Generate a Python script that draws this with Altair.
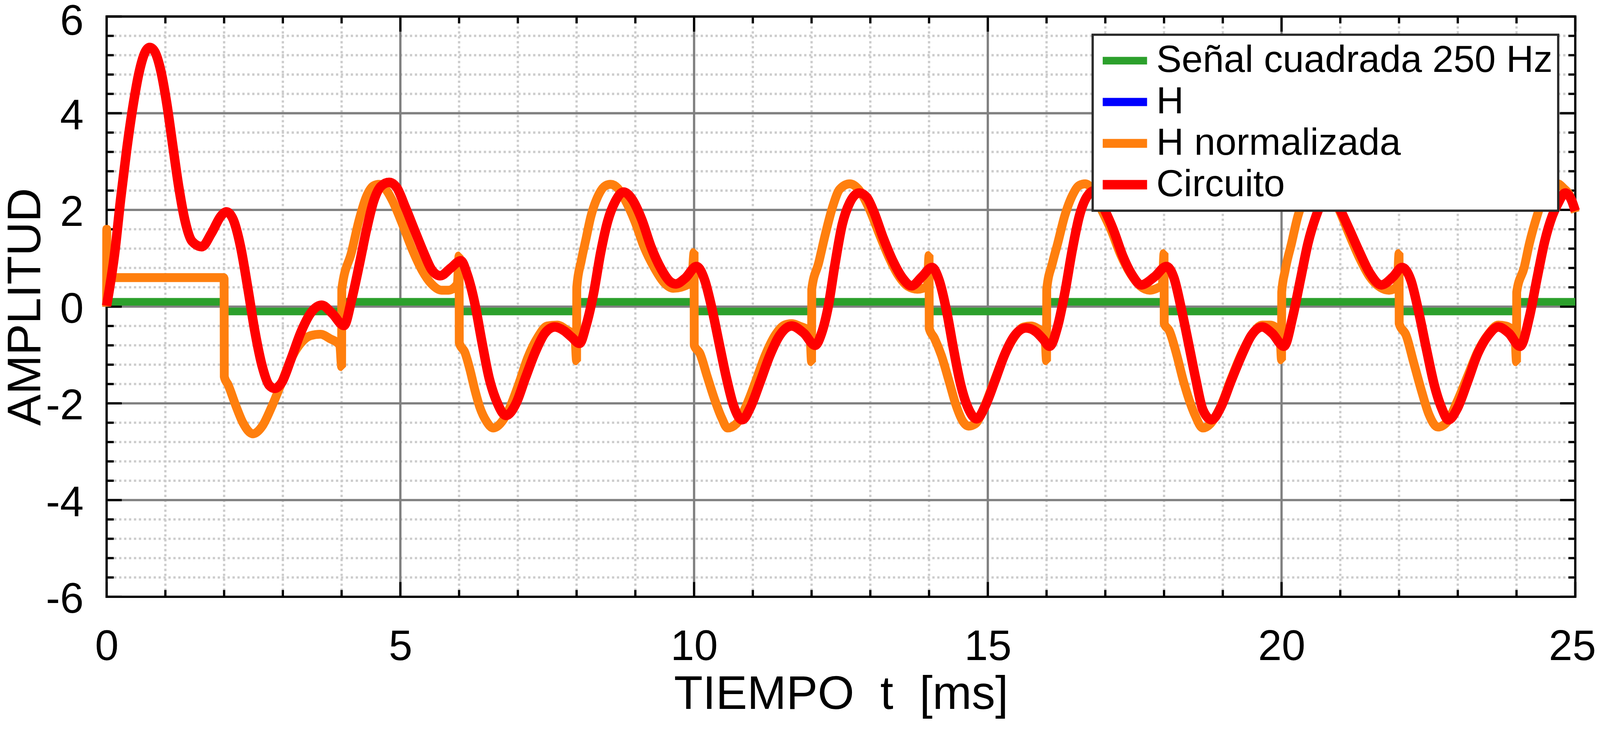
import altair as alt
import pandas as pd

FONT = "Liberation Sans"

# ---------------- data ----------------
series_names = ["Señal cuadrada 250 Hz", "H", "H normalizada", "Circuito"]
series_colors = ["#2ca02c", "#0000ff", "#ff7f0e", "#ff0000"]
series_widths = [20, 25, 20, 14]

# square wave 250 Hz (step-after)
sq_t = [0, 2, 4, 6, 8, 10, 12, 14, 16, 18, 20, 22, 24, 25]
sq_v = [0.1, -0.1, 0.1, -0.1, 0.1, -0.1, 0.1, -0.1, 0.1, -0.1, 0.1, -0.1, 0.1, 0.1]

# H normalizada (orange)
hn_t = [0.0, 0.002, 0.006, 1.99, 2.0, 2.003, 2.07, 2.2, 2.32, 2.49, 2.65, 2.81, 2.98, 3.14, 3.31, 3.47, 3.64, 3.8, 3.97,
        4.0, 4.003, 4.17, 4.3, 4.42, 4.545, 4.64, 4.75, 4.87, 5.04, 5.2, 5.37, 5.53, 5.7, 5.82, 5.97,
        6.0, 6.003, 6.1, 6.18, 6.27, 6.35, 6.47, 6.58, 6.7, 6.84, 7.01, 7.17, 7.34, 7.5, 7.67, 7.83, 7.97,
        8.0, 8.003, 8.08, 8.16, 8.24, 8.37, 8.49, 8.58, 8.7, 8.82, 8.99, 9.15, 9.32, 9.48, 9.645, 9.77, 9.96,
        10.0, 10.003, 10.1, 10.22, 10.35, 10.47, 10.57, 10.72, 10.88, 11.05, 11.21, 11.38, 11.54, 11.66, 11.79, 11.97,
        12.0, 12.003, 12.12, 12.235, 12.36, 12.48, 12.65, 12.81, 12.98, 13.14, 13.31, 13.47, 13.64, 13.8, 13.97,
        14.0, 14.003, 14.09, 14.21, 14.34, 14.46, 14.58, 14.67, 14.79, 14.95, 15.12, 15.28, 15.45, 15.61, 15.74, 15.86, 15.97,
        16.0, 16.003, 16.1, 16.19, 16.31, 16.44, 16.56, 16.66, 16.78, 16.93, 17.1, 17.26, 17.43, 17.59, 17.76, 17.88, 17.97,
        18.0, 18.003, 18.09, 18.21, 18.33, 18.46, 18.53, 18.66, 18.79, 18.97, 19.14, 19.32, 19.49, 19.67, 19.8, 19.97,
        20.0, 20.003, 20.06, 20.17, 20.28, 20.42, 20.55, 20.65, 20.78, 20.98, 21.15, 21.33, 21.5, 21.68, 21.83, 21.97,
        22.0, 22.003, 22.12, 22.25, 22.38, 22.51, 22.66, 22.82, 22.99, 23.17, 23.34, 23.52, 23.69, 23.82, 23.97,
        24.0, 24.003, 24.13, 24.22, 24.35, 24.47, 24.6, 24.7, 24.8, 24.92, 25.0]
hn_v = [0.0, 1.6, 0.6, 0.6, 0.58, -1.45, -1.62, -2.05, -2.4, -2.63, -2.47, -2.07, -1.57, -1.08, -0.75, -0.6, -0.57, -0.66, -0.8,
        -1.24, 0.36, 1.13, 1.8, 2.27, 2.5, 2.53, 2.43, 2.18, 1.69, 1.19, 0.75, 0.47, 0.34, 0.34, 0.47,
        1.05, -0.75, -0.95, -1.28, -1.73, -2.07, -2.38, -2.51, -2.42, -2.15, -1.62, -1.05, -0.63, -0.4, -0.38, -0.48, -0.6,
        -1.12, 0.4, 0.95, 1.4, 1.85, 2.3, 2.5, 2.53, 2.45, 2.22, 1.77, 1.23, 0.81, 0.51, 0.38, 0.4, 0.53,
        1.12, -0.8, -0.97, -1.43, -1.92, -2.3, -2.51, -2.42, -2.07, -1.54, -1.01, -0.59, -0.38, -0.35, -0.4, -0.52,
        -1.14, 0.36, 0.9, 1.5, 2.07, 2.43, 2.54, 2.41, 2.03, 1.54, 1.04, 0.66, 0.42, 0.36, 0.42,
        1.06, -0.45, -0.65, -1.01, -1.54, -2.04, -2.38, -2.47, -2.42, -2.04, -1.5, -1.01, -0.63, -0.42, -0.4, -0.46, -0.56,
        -1.12, 0.36, 0.9, 1.31, 1.88, 2.3, 2.51, 2.54, 2.42, 2.02, 1.58, 1.08, 0.68, 0.43, 0.34, 0.38, 0.45,
        1.1, -0.35, -0.5, -0.97, -1.54, -2.04, -2.25, -2.51, -2.42, -2.04, -1.5, -0.97, -0.59, -0.38, -0.38, -0.52,
        -1.1, 0.3, 0.74, 1.31, 1.88, 2.3, 2.5, 2.54, 2.42, 2.0, 1.5, 1.0, 0.62, 0.4, 0.34, 0.42,
        1.1, -0.35, -0.59, -1.16, -1.73, -2.23, -2.49, -2.38, -1.96, -1.43, -0.93, -0.57, -0.38, -0.4, -0.55,
        -1.14, 0.3, 0.81, 1.31, 1.88, 2.3, 2.52, 2.54, 2.45, 2.26, 1.95]

# H (blue) - drawn under the orange curve, same shape within reading precision
h_t = list(hn_t)
h_v = list(hn_v)

# Circuito (red)
c_t = [0.0, 0.14, 0.24, 0.34, 0.445, 0.55, 0.65, 0.733, 0.816, 0.92, 1.02, 1.125, 1.23, 1.33, 1.455, 1.62, 1.785, 1.95, 2.04,
       2.155, 2.28, 2.4, 2.525, 2.65, 2.77, 2.86, 2.98, 3.14, 3.31, 3.47, 3.66, 3.84, 4.04,
       4.17, 4.3, 4.42, 4.545, 4.67, 4.81, 4.94, 5.08, 5.245, 5.41, 5.53, 5.68, 5.86, 6.03,
       6.14, 6.27, 6.39, 6.51, 6.64, 6.8, 6.97, 7.13, 7.3, 7.46, 7.63, 7.79, 7.915, 8.05,
       8.16, 8.29, 8.41, 8.53, 8.66, 8.8, 8.945, 9.11, 9.27, 9.44, 9.6, 9.69, 9.85, 10.04,
       10.18, 10.3, 10.43, 10.55, 10.67, 10.82, 10.96, 11.13, 11.29, 11.46, 11.66, 11.87, 12.06,
       12.17, 12.28, 12.4, 12.52, 12.65, 12.81, 12.94, 13.06, 13.22, 13.39, 13.55, 13.7, 13.88, 14.05,
       14.17, 14.3, 14.42, 14.54, 14.67, 14.81, 14.95, 15.12, 15.28, 15.45, 15.65, 15.82, 15.94, 16.05,
       16.19, 16.31, 16.44, 16.56, 16.68, 16.82, 16.97, 17.14, 17.3, 17.47, 17.61, 17.84, 18.04,
       18.17, 18.29, 18.42, 18.54, 18.66, 18.81, 18.97, 19.14, 19.32, 19.49, 19.67, 19.84, 20.04,
       20.19, 20.32, 20.45, 20.59, 20.7, 20.82, 20.98, 21.15, 21.33, 21.5, 21.7, 21.9, 22.05,
       22.2, 22.34, 22.47, 22.6, 22.73, 22.84, 22.99, 23.17, 23.34, 23.52, 23.69, 23.87, 24.06,
       24.22, 24.35, 24.48, 24.61, 24.7, 24.83, 24.93, 25.0]
c_v = [0.02, 1.13, 2.24, 3.23, 4.12, 4.83, 5.25, 5.36, 5.28, 4.89, 4.23, 3.34, 2.46, 1.8, 1.35, 1.24, 1.52, 1.88, 1.96,
       1.8, 1.24, 0.41, -0.52, -1.24, -1.63, -1.69, -1.57, -1.08, -0.52, -0.14, 0.03, -0.14, -0.39,
       0.14, 0.86, 1.57, 2.18, 2.49, 2.57, 2.46, 2.07, 1.57, 1.08, 0.77, 0.64, 0.8, 0.95,
       0.66, 0.05, -0.74, -1.47, -1.96, -2.25, -2.0, -1.47, -0.93, -0.55, -0.42, -0.5, -0.63, -0.76,
       -0.4, 0.28, 1.12, 1.77, 2.18, 2.37, 2.22, 1.8, 1.23, 0.78, 0.51, 0.47, 0.59, 0.83,
       0.55, -0.02, -0.78, -1.47, -2.04, -2.34, -2.08, -1.54, -1.01, -0.59, -0.4, -0.55, -0.8,
       -0.55, -0.02, 0.89, 1.69, 2.15, 2.35, 2.26, 1.96, 1.42, 0.93, 0.59, 0.43, 0.62, 0.81,
       0.55, -0.1, -0.9, -1.62, -2.11, -2.32, -2.07, -1.54, -1.01, -0.61, -0.44, -0.52, -0.67, -0.82,
       -0.4, 0.28, 1.19, 1.88, 2.26, 2.4, 2.05, 1.58, 1.04, 0.63, 0.45, 0.62, 0.83,
       0.59, -0.02, -0.78, -1.5, -2.13, -2.34, -2.07, -1.54, -1.01, -0.59, -0.42, -0.55, -0.82,
       -0.21, 0.55, 1.31, 1.88, 2.2, 2.38, 2.05, 1.61, 1.12, 0.7, 0.45, 0.62, 0.81,
       0.55, -0.14, -0.9, -1.62, -2.11, -2.34, -2.11, -1.54, -0.97, -0.59, -0.42, -0.55, -0.82,
       -0.21, 0.59, 1.35, 1.88, 2.12, 2.35, 2.22, 1.98]

# axes / grid values
x_label_vals = [0, 5, 10, 15, 20, 25]
y_label_vals = [-6, -4, -2, 0, 2, 4, 6]
x_major_grid = [5, 10, 15, 20]
x_minor_grid = [1, 2, 3, 4, 6, 7, 8, 9, 11, 12, 13, 14, 16, 17, 18, 19, 21, 22, 23, 24]
y_major_grid = [-4, -2, 0, 2, 4]
y_minor_grid = [-5.6, -5.2, -4.8, -4.4, -3.6, -3.2, -2.8, -2.4, -1.6, -1.2, -0.8, -0.4,
                0.4, 0.8, 1.2, 1.6, 2.4, 2.8, 3.2, 3.6, 4.4, 4.8, 5.2, 5.6]
x_major_ticks = [0, 5, 10, 15, 20, 25]
x_minor_ticks = x_minor_grid
y_major_ticks = [-6, -4, -2, 0, 2, 4, 6]
y_minor_ticks = y_minor_grid

# ---------------- chart ----------------
W, H = 3874, 1530

xs = alt.Scale(domain=[0, 25], nice=False, zero=False)
ys = alt.Scale(domain=[-6, 6], nice=False, zero=False)

x_axis = alt.Axis(values=x_label_vals, title="TIEMPO\u00a0 t\u00a0 [ms]", grid=False, ticks=False, tickSize=0,
                  domain=False, labelFont=FONT, labelFontSize=112, labelColor="black", labelPadding=78,
                  labelOffset={"condition": {"test": "datum.value == 25", "value": -8}, "value": 0},
                  labelFlush=False, labelOverlap=False, labelExpr="toString(datum.value)",
                  titleFont=FONT, titleFontSize=124, titleFontWeight="normal", titleColor="black",
                  titleY=295, titleBaseline="alphabetic")
y_axis = alt.Axis(values=y_label_vals, title="AMPLITUD", grid=False, ticks=False, tickSize=0,
                  domain=False, labelFont=FONT, labelFontSize=112, labelColor="black", labelPadding=61,
                  labelOffset={"condition": {"test": "datum.value == 6", "value": 14}, "value": 8},
                  labelFlush=False, labelOverlap=False, labelExpr="toString(datum.value)",
                  titleFont=FONT, titleFontSize=124, titleFontWeight="normal", titleColor="black",
                  titleX=-176, titleY=H / 2, titleAngle=270, titleAlign="center", titleBaseline="alphabetic")

X = alt.X("t:Q", scale=xs, axis=x_axis)
Y = alt.Y("v:Q", scale=ys, axis=y_axis)

leg = alt.Legend(title=None, orient="none", legendX=2601, legendY=48, symbolType="stroke",
                 symbolSize=13689, clipHeight=109, labelFont=FONT, labelFontSize=100, labelColor="black",
                 labelLimit=0, labelOffset=12, padding=14, rowPadding=0, fillColor="white",
                 strokeColor="#2b2b2b", cornerRadius=0)

color_enc = alt.Color("serie:N", scale=alt.Scale(domain=series_names, range=series_colors), legend=leg)
sw_enc = alt.StrokeWidth("serie:N", scale=alt.Scale(domain=series_names, range=series_widths), legend=leg)


def line_df(ts, vs, name):
    return pd.DataFrame({"t": ts, "v": vs, "serie": name, "i": list(range(len(ts)))})


def xrule_df(vals):
    return pd.DataFrame({"t": vals})


def yrule_df(vals):
    return pd.DataFrame({"v": vals})


layers = []
# grid
minor = dict(color="#cccccc", strokeWidth=6, strokeDash=[6, 7])
layers.append(alt.Chart(xrule_df(x_minor_grid)).mark_rule(**minor).encode(x=X))
layers.append(alt.Chart(yrule_df(y_minor_grid)).mark_rule(**minor).encode(y=Y))
layers.append(alt.Chart(xrule_df(x_major_grid)).mark_rule(color="#808080", strokeWidth=6).encode(x=X))
layers.append(alt.Chart(yrule_df(y_major_grid)).mark_rule(color="#808080", strokeWidth=6).encode(y=Y))

# inward ticks
tk = dict(color="black", strokeWidth=6)
layers.append(alt.Chart(xrule_df(x_major_ticks)).mark_rule(**tk).encode(x=X, y=alt.value(H), y2=alt.value(H - 39)))
layers.append(alt.Chart(xrule_df(x_minor_ticks)).mark_rule(**tk).encode(x=X, y=alt.value(H), y2=alt.value(H - 18)))
layers.append(alt.Chart(xrule_df(x_major_ticks)).mark_rule(**tk).encode(x=X, y=alt.value(0), y2=alt.value(40)))
layers.append(alt.Chart(xrule_df(x_minor_ticks)).mark_rule(**tk).encode(x=X, y=alt.value(0), y2=alt.value(18)))
layers.append(alt.Chart(yrule_df(y_major_ticks)).mark_rule(**tk).encode(y=Y, x=alt.value(0), x2=alt.value(40)))
layers.append(alt.Chart(yrule_df(y_minor_ticks)).mark_rule(**tk).encode(y=Y, x=alt.value(0), x2=alt.value(19)))
layers.append(alt.Chart(yrule_df(y_major_ticks)).mark_rule(**tk).encode(y=Y, x=alt.value(W), x2=alt.value(W - 40)))
layers.append(alt.Chart(yrule_df(y_minor_ticks)).mark_rule(**tk).encode(y=Y, x=alt.value(W), x2=alt.value(W - 18)))

# curves
layers.append(alt.Chart(line_df(sq_t, sq_v, series_names[0])).mark_line(interpolate="step-after", strokeCap="butt").encode(
    x=X, y=Y, color=color_enc, strokeWidth=sw_enc, order="i:Q"))
layers.append(alt.Chart(line_df(h_t, h_v, series_names[1])).mark_line(interpolate="monotone", strokeJoin="bevel", strokeCap="butt").encode(
    x=X, y=Y, color=color_enc, strokeWidth=sw_enc, order="i:Q"))
layers.append(alt.Chart(line_df(hn_t, hn_v, series_names[2])).mark_line(interpolate="monotone", strokeJoin="bevel", strokeCap="butt").encode(
    x=X, y=Y, color=color_enc, strokeWidth=sw_enc, order="i:Q"))
layers.append(alt.Chart(line_df(c_t, c_v, series_names[3])).mark_line(interpolate="monotone", strokeJoin="round", strokeCap="butt").encode(
    x=X, y=Y, color=color_enc, strokeWidth=sw_enc, order="i:Q"))

base = alt.layer(*layers).properties(
    width=W, height=H,
    padding={"left": 273, "top": 7, "right": 57, "bottom": 325},
    autosize=alt.AutoSizeParams(type="none"),
    background="white",
)

chart = base.configure_view(stroke="black", strokeWidth=6)
try:
    trial = base.configure_view(stroke="black", strokeWidth=6).configure_legend(strokeWidth=6)
    trial.to_dict()
    chart = trial
except Exception:
    pass

chart.save("out.html", embed_options={"renderer": "svg", "actions": False})
